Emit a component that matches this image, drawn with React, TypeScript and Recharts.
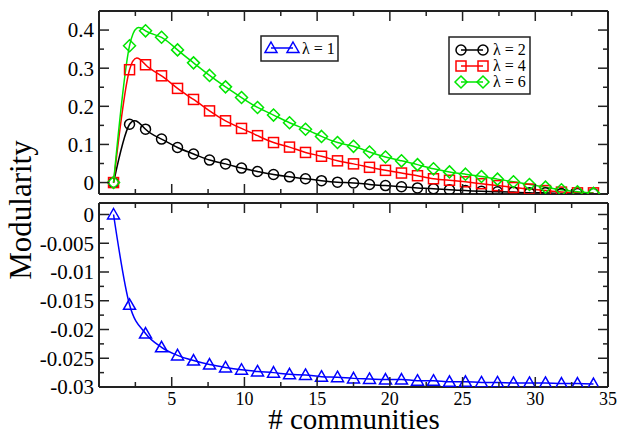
import React from 'react';
import { LineChart, Line, XAxis, YAxis } from 'recharts';

// number of communities (x of every point)
const nComm = [1, 2.1, 3.2, 4.3, 5.4, 6.5, 7.6, 8.7, 9.8, 10.9, 12, 13.1, 14.2, 15.3, 16.4, 17.5, 18.6, 19.7, 20.8, 21.9, 23, 24.1, 25.2, 26.3, 27.4, 28.5, 29.6, 30.7, 31.8, 32.9, 34];

// modularity, upper panel
const lam2 = [0, 0.153, 0.14, 0.114, 0.092, 0.075, 0.059, 0.049, 0.038, 0.029, 0.021, 0.015, 0.01, 0.005, 0.001, -0.001, -0.005, -0.008, -0.011, -0.014, -0.016, -0.019, -0.021, -0.023, -0.024, -0.025, -0.027, -0.027, -0.029, -0.029, -0.029];
const lam4 = [0, 0.296, 0.309, 0.28, 0.247, 0.218, 0.188, 0.162, 0.142, 0.123, 0.105, 0.093, 0.079, 0.069, 0.057, 0.049, 0.04, 0.032, 0.025, 0.018, 0.01, 0.006, 0.002, -0.003, -0.008, -0.013, -0.017, -0.021, -0.025, -0.027, -0.027];
const lam6 = [0, 0.359, 0.398, 0.381, 0.348, 0.314, 0.281, 0.251, 0.223, 0.197, 0.177, 0.157, 0.14, 0.121, 0.105, 0.095, 0.08, 0.067, 0.057, 0.047, 0.036, 0.028, 0.022, 0.016, 0.009, 0.002, -0.005, -0.012, -0.019, -0.024, -0.028];

// modularity, lower panel
const lam1 = [0, -0.0157, -0.0207, -0.0231, -0.0245, -0.0254, -0.0261, -0.0266, -0.027, -0.0273, -0.0275, -0.0278, -0.0279, -0.0282, -0.0283, -0.0285, -0.0286, -0.0287, -0.0287, -0.0289, -0.0289, -0.0291, -0.0291, -0.0292, -0.0292, -0.0293, -0.0293, -0.0293, -0.0294, -0.0294, -0.0295];

const xTicks = [2.5, 5, 7.5, 10, 12.5, 15, 17.5, 20, 22.5, 25, 27.5, 30, 32.5, 35];
const xMajor = [5, 10, 15, 20, 25, 30, 35];
const topTicks = [0, 0.05, 0.1, 0.15, 0.2, 0.25, 0.3, 0.35, 0.4];
const topMajor = [0, 0.1, 0.2, 0.3, 0.4];
const botTicks = [0, -0.0025, -0.005, -0.0075, -0.01, -0.0125, -0.015, -0.0175, -0.02, -0.0225, -0.025, -0.0275, -0.03];
const botMajor = [0, -0.005, -0.01, -0.015, -0.02, -0.025, -0.03];

const FONT = '"Liberation Serif", "Times New Roman", serif';
const FRAME = '#222';
const GREEN = '#00e600';
const txt = { fontFamily: FONT };

const topData = nComm.map((x, i) => ({ x, l2: lam2[i], l4: lam4[i], l6: lam6[i] }));
const botData = nComm.map((x, i) => ({ x, l1: lam1[i] }));

type Side = 'left' | 'right' | 'top' | 'bottom';

// inward ticks, label only on the majors
function makeTick(side: Side, majors: number[], labels: boolean, fontSize: number) {
  return (props: any) => {
    const { x, y, payload, index } = props;
    const v = payload.value;
    const major = majors.some(m => Math.abs(m - v) < 1e-9);
    const len = major ? 10 : 5;
    let x2 = x, y2 = y;
    if (side === 'left') x2 = x + len;
    if (side === 'right') x2 = x - len;
    if (side === 'top') y2 = y + len;
    if (side === 'bottom') y2 = y - len;
    return (
      <g key={`${side}-${index}`}>
        <line x1={x} y1={y} x2={x2} y2={y2} stroke={FRAME} strokeWidth={1.5} />
        {labels && major && side === 'left' && (
          <text x={x - 5} y={y} dy="0.35em" textAnchor="end" style={txt} fontSize={fontSize} fill="#000">
            {String(v)}
          </text>
        )}
        {labels && major && side === 'bottom' && (
          <text x={x} y={y + 5} dy="0.71em" textAnchor="middle" style={txt} fontSize={fontSize} fill="#000">
            {String(v)}
          </text>
        )}
      </g>
    );
  };
}

const circleDot = (color: string) => (p: any) => (
  <circle key={`c-${p.index}`} cx={p.cx} cy={p.cy} r={5} fill="none" stroke={color} strokeWidth={1.5} />
);
const squareDot = (color: string) => (p: any) => (
  <rect key={`s-${p.index}`} x={p.cx - 5} y={p.cy - 5} width={10} height={10} fill="none" stroke={color} strokeWidth={1.5} />
);
const diamondDot = (color: string) => (p: any) => (
  <polygon key={`d-${p.index}`} points={`${p.cx},${p.cy - 6} ${p.cx + 6},${p.cy} ${p.cx},${p.cy + 6} ${p.cx - 6},${p.cy}`} fill="none" stroke={color} strokeWidth={1.5} />
);
const triangleDot = (color: string) => (p: any) => (
  <polygon key={`t-${p.index}`} points={`${p.cx},${p.cy - 6} ${p.cx + 6},${p.cy + 4.5} ${p.cx - 6},${p.cy + 4.5}`} fill="none" stroke={color} strokeWidth={1.5} />
);

const axisLine = { stroke: FRAME, strokeWidth: 2 };

function Frame({ yDomain, yTicks, yMajor, xLabels }: { yDomain: number[]; yTicks: number[]; yMajor: number[]; xLabels: boolean }) {
  return [
    <XAxis key="xb" xAxisId="b" type="number" dataKey="x" domain={[0, 35]} allowDataOverflow ticks={xTicks} interval={0}
      height={xLabels ? 49 : 6} tickSize={0} tickMargin={0} tickLine={false} axisLine={axisLine}
      tick={makeTick('bottom', xMajor, xLabels, 18)} />,
    <XAxis key="xt" xAxisId="t" orientation="top" type="number" dataKey="x" domain={[0, 35]} allowDataOverflow ticks={xTicks} interval={0}
      height={11} tickSize={0} tickMargin={0} tickLine={false} axisLine={axisLine}
      tick={makeTick('top', xMajor, false, 18)} />,
    <YAxis key="yl" yAxisId="l" type="number" domain={yDomain} allowDataOverflow ticks={yTicks} interval={0}
      width={99} tickSize={0} tickMargin={0} tickLine={false} axisLine={axisLine}
      tick={makeTick('left', yMajor, true, 21)} />,
    <YAxis key="yr" yAxisId="r" orientation="right" type="number" domain={yDomain} allowDataOverflow ticks={yTicks} interval={0}
      width={10} tickSize={0} tickMargin={0} tickLine={false} axisLine={axisLine}
      tick={makeTick('right', yMajor, false, 21)} />,
  ];
}

export default function App() {
  return (
    <div style={{ position: 'absolute', left: 0, top: 0, width: 618, height: 436, background: '#fff' }}>
      <div style={{ position: 'absolute', left: 0, top: 0 }}>
        <LineChart width={618} height={200} data={topData} margin={{ top: 0, right: 0, bottom: 0, left: 0 }}>
          {Frame({ yDomain: [-0.03, 0.45], yTicks: topTicks, yMajor: topMajor, xLabels: false })}
          <Line xAxisId="b" yAxisId="l" type="natural" dataKey="l2" stroke="#000" strokeWidth={1.5} dot={circleDot('#000')} isAnimationActive={false} />
          <Line xAxisId="b" yAxisId="l" type="natural" dataKey="l4" stroke="#ff0000" strokeWidth={1.5} dot={squareDot('#ff0000')} isAnimationActive={false} />
          <Line xAxisId="b" yAxisId="l" type="natural" dataKey="l6" stroke={GREEN} strokeWidth={1.5} dot={diamondDot(GREEN)} isAnimationActive={false} />
        </LineChart>
      </div>
      <div style={{ position: 'absolute', left: 0, top: 192 }}>
        <LineChart width={618} height={244} data={botData} margin={{ top: 0, right: 0, bottom: 0, left: 0 }}>
          {Frame({ yDomain: [-0.03, 0.002], yTicks: botTicks, yMajor: botMajor, xLabels: true })}
          <Line xAxisId="b" yAxisId="l" type="monotone" dataKey="l1" stroke="#0000ff" strokeWidth={1.5} dot={triangleDot('#0000ff')} isAnimationActive={false} />
        </LineChart>
      </div>
      <svg width={618} height={436} style={{ position: 'absolute', left: 0, top: 0, pointerEvents: 'none' }}>
        <text transform="rotate(-90)" x={-210} y={31} textAnchor="middle" style={txt} fontSize={31} fill="#000">Modularity</text>
        <text x={354} y={429} textAnchor="middle" style={txt} fontSize={29} fill="#000"># communities</text>

        <rect x={261} y={36} width={77} height={25} fill="#fff" stroke={FRAME} strokeWidth={1.5} />
        <line x1={271} y1={48} x2={293} y2={48} stroke="#0000ff" strokeWidth={1.5} />
        {triangleDot('#0000ff')({ cx: 271, cy: 48, index: 'l1a' })}
        {triangleDot('#0000ff')({ cx: 293, cy: 48, index: 'l1b' })}
        <text x={302} y={54} style={txt} fontSize={16} fill="#000">λ = 1</text>

        <rect x={449} y={37} width={81} height={57} fill="#fff" stroke={FRAME} strokeWidth={1.5} />
        <line x1={461} y1={50} x2={483} y2={50} stroke="#000" strokeWidth={1.5} />
        {circleDot('#000')({ cx: 461, cy: 50, index: 'l2a' })}
        {circleDot('#000')({ cx: 483, cy: 50, index: 'l2b' })}
        <text x={493} y={55} style={txt} fontSize={16} fill="#000">λ = 2</text>
        <line x1={461} y1={66} x2={483} y2={66} stroke="#ff0000" strokeWidth={1.5} />
        {squareDot('#ff0000')({ cx: 461, cy: 66, index: 'l4a' })}
        {squareDot('#ff0000')({ cx: 483, cy: 66, index: 'l4b' })}
        <text x={493} y={71} style={txt} fontSize={16} fill="#000">λ = 4</text>
        <line x1={461} y1={82} x2={483} y2={82} stroke={GREEN} strokeWidth={1.5} />
        {diamondDot(GREEN)({ cx: 461, cy: 82, index: 'l6a' })}
        {diamondDot(GREEN)({ cx: 483, cy: 82, index: 'l6b' })}
        <text x={493} y={87} style={txt} fontSize={16} fill="#000">λ = 6</text>
      </svg>
    </div>
  );
}
